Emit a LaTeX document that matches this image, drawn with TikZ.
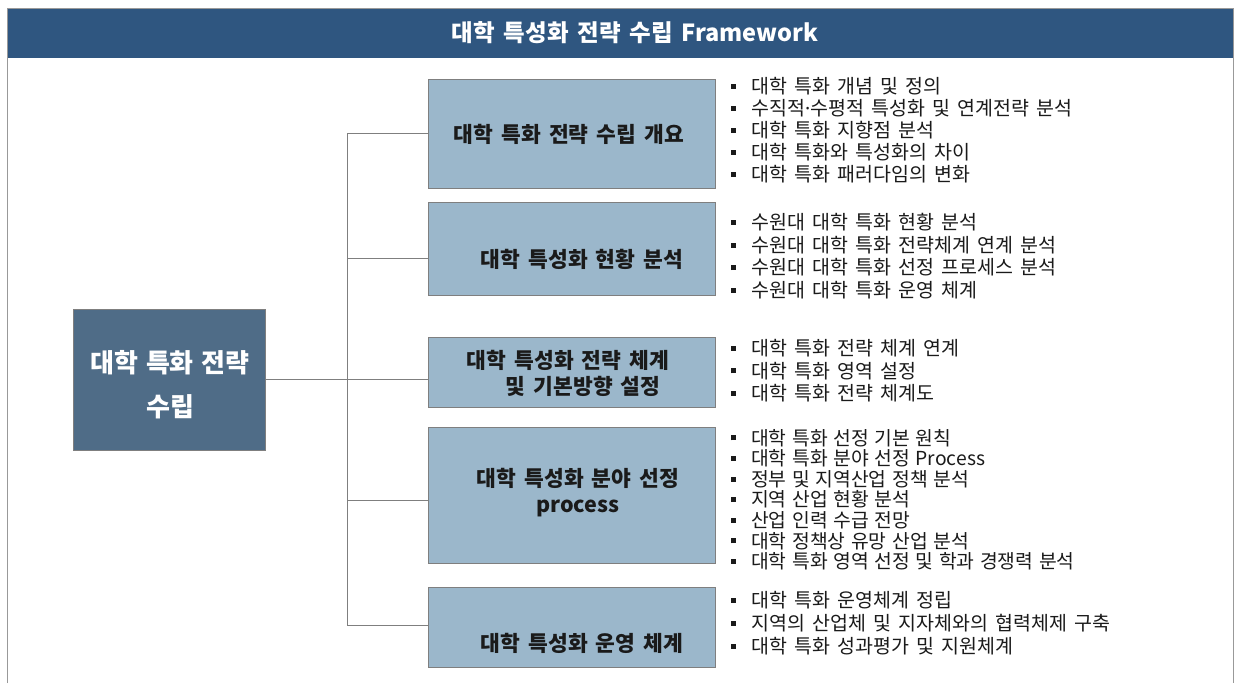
\documentclass[tikz,border=0pt]{standalone}
\usepackage{fontspec}
\setmainfont{Noto Sans CJK KR}[WordSpace=1.65]
\newfontfamily\condf{Noto Sans CJK KR}[WordSpace=2.9]
\newfontfamily\mainf{Noto Sans CJK KR}[WordSpace=1.3]
\newfontfamily\latinf{Noto Sans}
\definecolor{hdr}{HTML}{2F5680}
\definecolor{mainbox}{HTML}{4F6C87}
\definecolor{subbox}{HTML}{9BB7CB}
\definecolor{edge}{HTML}{7F7F7F}
\definecolor{txt}{HTML}{1A1A1A}
\newcommand\bul{\makebox[20pt][l]{\rule[0.24em]{5pt}{5pt}}}
\newcommand\mdot{{\latinf ·}}
\tikzset{
  frame/.style={draw=edge!80, line width=1pt},
  conn/.style={draw=edge, line width=1pt},
  sub/.style={draw=edge, fill=subbox, line width=1pt, inner sep=0pt, anchor=north west},
  subtext/.style={font=\fontsize{21.5}{26}\selectfont\bfseries, text=txt, align=center},
  item/.style={font=\fontsize{19.5}{20}\selectfont, text=txt, anchor=base west, inner sep=0pt},
  itemc/.style={font=\condf\fontsize{19.3}{20}\selectfont, text=txt, anchor=base west, inner sep=0pt},
}
\begin{document}
\begin{tikzpicture}[x=1pt,y=-1pt]
\useasboundingbox (0,0) rectangle (1237,683);
% frame and header
\fill[hdr] (7,8) rectangle (1233,58);
\draw[frame] (7,683) -- (7,8) -- (1233,8) -- (1233,683);
\node[font=\fontsize{23.5}{28}\selectfont\bfseries, text=white] (title) at (635,33) {대학 특성화 전략 수립 Framework};
% main box
\node[draw=edge, fill=mainbox, line width=1pt, minimum width=192pt, minimum height=141pt, anchor=north west, inner sep=0pt] (main) at (73,309) {};
\node[font=\mainf\fontsize{26}{44}\selectfont\bfseries, text=white, align=center] (maint) at (170,385) {대학 특화 전략\\수립};
% sub boxes
\node[sub, minimum width=287pt, minimum height=109pt] (b1) at (428,79) {};
\node[sub, minimum width=287pt, minimum height=93pt] (b2) at (428,202) {};
\node[sub, minimum width=287pt, minimum height=70pt] (b3) at (428,337) {};
\node[sub, minimum width=287pt, minimum height=136pt] (b4) at (428,427) {};
\node[sub, minimum width=287pt, minimum height=80pt] (b5) at (428,587) {};
\node[subtext] (t1) at (569,134) {대학 특화 전략 수립 개요};
\node[subtext] (t2) at (582,259) {대학 특성화 현황 분석};
\node[subtext, align=left] (t3) at (568,373) {대학 특성화 전략 체계\\\hspace*{39pt}및 기본방향 설정};
\node[subtext] (t4) at (578,493) {대학 특성화 분야 선정\\process};
\node[subtext] (t5) at (582,643) {대학 특성화 운영 체계};
% connectors
\coordinate (j1) at (347,133);
\coordinate (j2) at (347,258);
\coordinate (j3) at (347,379);
\coordinate (j4) at (347,500);
\coordinate (j5) at (347,625);
\draw[conn] (main.east |- j3) -- (j3);
\draw[conn] (j1) -- (j5);
\draw[conn] (j1) -- (b1.west |- j1);
\draw[conn] (j2) -- (b2.west |- j2);
\draw[conn] (j3) -- (b3.west |- j3);
\draw[conn] (j4) -- (b4.west |- j4);
\draw[conn] (j5) -- (b5.west |- j5);
% lists
\foreach \t [count=\i] in {대학 특화 개념 및 정의, 수직적\mdot 수평적 특성화 및 연계전략 분석, 대학 특화 지향점 분석, 대학 특화와 특성화의 차이, 대학 특화 패러다임의 변화}
  \node[item] (la\i) at (731,{93.5+22*(\i-1)}) {\bul\t};
\foreach \t [count=\i] in {수원대 대학 특화 현황 분석, 수원대 대학 특화 전략체계 연계 분석, 수원대 대학 특화 선정 프로세스 분석, 수원대 대학 특화 운영 체계}
  \node[item] (lb\i) at (731,{229.5+22.7*(\i-1)}) {\bul\t};
\foreach \t [count=\i] in {대학 특화 전략 체계 연계, 대학 특화 영역 설정, 대학 특화 전략 체계도}
  \node[item] (lc\i) at (731,{355.5+22.5*(\i-1)}) {\bul\t};
\foreach \t [count=\i] in {대학 특화 선정 기본 원칙, 대학 특화 분야 선정 Process, 정부 및 지역산업 정책 분석, 지역 산업 현황 분석, 산업 인력 수급 전망, 대학 정책상 유망 산업 분석, 대학 특화 영역 선정 및 학과 경쟁력 분석}
  \node[itemc] (ld\i) at (731,{445+20.6*(\i-1)}) {\bul\t};
\foreach \t [count=\i] in {대학 특화 운영체계 정립, 지역의 산업체 및 지자체와의 협력체제 구축, 대학 특화 성과평가 및 지원체계}
  \node[item] (le\i) at (731,{607.5+23*(\i-1)}) {\bul\t};
\end{tikzpicture}
\end{document}
